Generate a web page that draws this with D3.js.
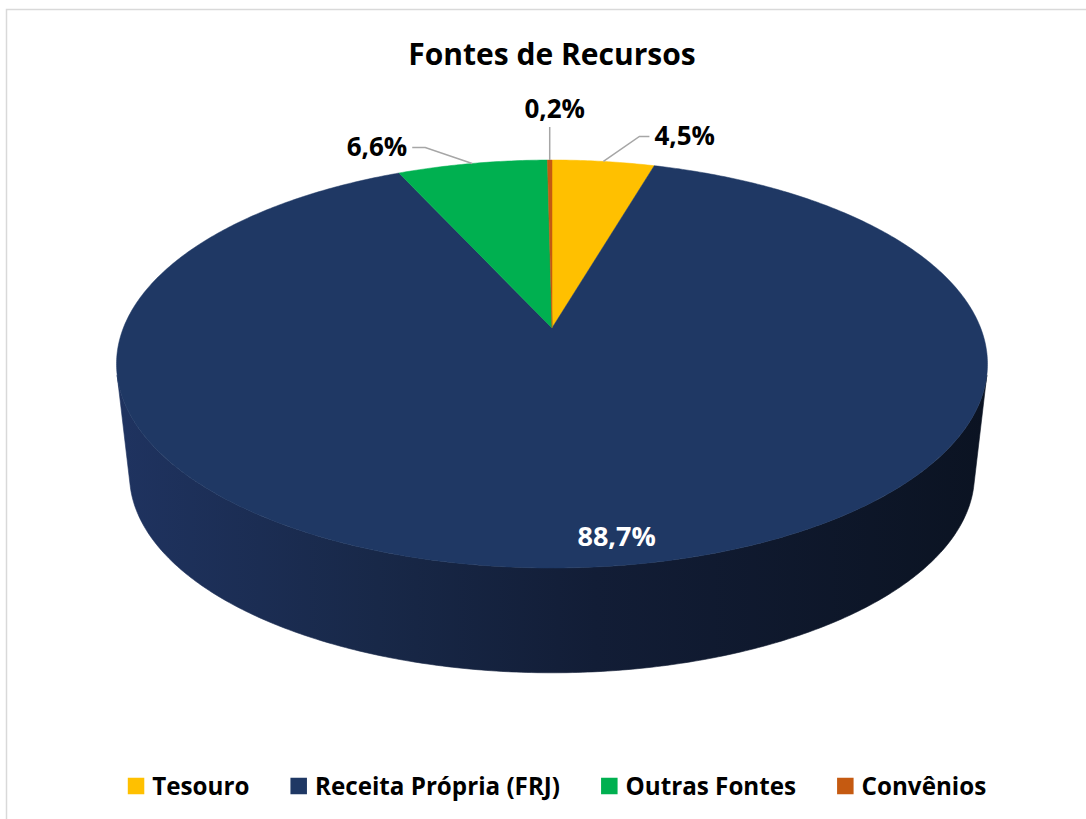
<!DOCTYPE html>
<html>
<head>
<meta charset="utf-8">
<script src="https://cdn.jsdelivr.net/npm/d3@7"></script>
<style>
  html, body { margin: 0; padding: 0; background: #ffffff; }
  svg { display: block; }
  text { font-family: "Open Sans", "DejaVu Sans", sans-serif; font-weight: 700; }
</style>
</head>
<body>
<svg id="chart" width="1086" height="819"></svg>
<script>
// ---- data ----
const title = "Fontes de Recursos";
const categories = ["Tesouro", "Receita Própria (FRJ)", "Outras Fontes", "Convênios"];
const values = [4.5, 88.7, 6.6, 0.2];
const valueLabels = ["4,5%", "88,7%", "6,6%", "0,2%"];
const colors = ["#FFC000", "#1F3864", "#00B050", "#C55A11"];

// ---- layout ----
const W = 1086, H = 819;
const svg = d3.select("#chart");

// perspective pie geometry (screen measurements of top face)
const cx = 552, cy0 = 328;
const backY = 160, frontY = 568, halfWidth = 435.5;
const back = cy0 - backY, front = frontY - cy0;
const k = (front - back) / (front + back);
const B = (front + back) / 2 * (1 - k * k);
const A = halfWidth * Math.sqrt(1 - k * k);
const sBottom = 0.97, dyBottom = 112;

function proj(a, r, bottom) {
  const u = r * Math.sin(a), v = r * Math.cos(a);
  const w = 1 + k * v;
  const s = bottom ? sBottom : 1;
  return [cx + s * A * u / w, cy0 + (bottom ? dyBottom : 0) - s * B * v / w];
}
function arcPts(a0, a1, r, bottom) {
  const n = Math.max(2, Math.ceil(Math.abs(a1 - a0) / 0.01));
  return d3.range(n + 1).map(i => proj(a0 + (a1 - a0) * i / n, r, bottom));
}

// silhouette angles: where the generator line (top->bottom) is tangent to the top rim
function silh(a) {
  const e = 1e-4;
  const p = proj(a, 1, false), q = proj(a + e, 1, false), b = proj(a, 1, true);
  const tx = q[0] - p[0], ty = q[1] - p[1], gx = b[0] - p[0], gy = b[1] - p[1];
  return tx * gy - ty * gx;
}
function findRoot(lo, hi) {
  let flo = silh(lo);
  for (let i = 0; i < 60; i++) {
    const m = (lo + hi) / 2, fm = silh(m);
    if ((fm > 0) === (flo > 0)) { lo = m; flo = fm; } else hi = m;
  }
  return (lo + hi) / 2;
}
const visLo = findRoot(Math.PI * 0.3, Math.PI * 0.9);
const visHi = findRoot(Math.PI * 1.1, Math.PI * 1.7);

// border
svg.append("rect").attr("x", 6.5).attr("y", 9.5).attr("width", W + 20).attr("height", H + 20)
  .attr("fill", "none").attr("stroke", "#d9d9d9").attr("stroke-width", 1.5);

// title
svg.append("text").attr("x", cx).attr("y", 64.5).attr("text-anchor", "middle")
  .attr("font-size", 30).attr("fill", "#000").text(title);

const pie = d3.pie().sort(null).value(d => d)(values);
const line = d3.line();

// gradients for side walls
const defs = svg.append("defs");
colors.forEach((c, i) => {
  const g = defs.append("linearGradient").attr("id", "wall" + i)
    .attr("gradientUnits", "userSpaceOnUse")
    .attr("x1", cx - halfWidth).attr("x2", cx + halfWidth).attr("y1", 0).attr("y2", 0);
  const base = d3.color(c);
  const stops = i === 1
    ? [[0, "#1f3360"], [0.3, "#182848"], [0.55, "#121d36"], [1, "#0b1322"]]
    : [[0, base.darker(0.4)], [0.5, base.darker(1.0)], [1, base.darker(1.8)]];
  stops.forEach(([o, col]) => g.append("stop").attr("offset", o).attr("stop-color", col));
});

// side walls (front-visible range only)
const walls = svg.append("g");
pie.forEach((p, i) => {
  const a0 = Math.max(p.startAngle, visLo), a1 = Math.min(p.endAngle, visHi);
  if (a1 <= a0) return;
  const pts = arcPts(a0, a1, 1, false).concat(arcPts(a1, a0, 1, true));
  walls.append("path").attr("d", line(pts) + "Z").attr("fill", `url(#wall${i})`)
    .attr("stroke", `url(#wall${i})`).attr("stroke-width", 0.6);
});

// top faces
const tops = svg.append("g");
pie.forEach((p, i) => {
  const pts = [proj(0, 0, false)].concat(arcPts(p.startAngle, p.endAngle, 1, false));
  tops.append("path").attr("d", line(pts) + "Z").attr("fill", colors[i])
    .attr("stroke", colors[i]).attr("stroke-width", 0.5);
});

// labels
const labelLayout = [
  { type: "out", elbow: [36, -25], tail: 10, anchor: "start" },
  { type: "in", r: 0.89, dx: 32 },
  { type: "out", elbow: [-47, -16], tail: -13, anchor: "end" },
  { type: "up", rise: 33 }
];
const lab = svg.append("g");
pie.forEach((p, i) => {
  const mid = (p.startAngle + p.endAngle) / 2;
  const L = labelLayout[i];
  if (L.type === "in") {
    const [x, y] = proj(mid, L.r, false);
    lab.append("text").attr("x", x + L.dx).attr("y", y).attr("dy", "0.36em")
      .attr("text-anchor", "middle").attr("font-size", 27).attr("fill", "#fff").text(valueLabels[i]);
    return;
  }
  const P = proj(mid, 1, false);
  if (L.type === "out") {
    const E = [P[0] + L.elbow[0], P[1] + L.elbow[1]];
    const T = [E[0] + L.tail, E[1]];
    lab.append("path").attr("d", line([P, E, T])).attr("fill", "none")
      .attr("stroke", "#a6a6a6").attr("stroke-width", 1.5);
    lab.append("text").attr("x", T[0] + (L.anchor === "start" ? 5 : -5)).attr("y", T[1])
      .attr("dy", "0.33em").attr("text-anchor", L.anchor).attr("font-size", 26)
      .attr("fill", "#000").text(valueLabels[i]);
  } else {
    const T = [P[0], P[1] - L.rise];
    lab.append("path").attr("d", line([P, T])).attr("fill", "none")
      .attr("stroke", "#a6a6a6").attr("stroke-width", 1.5);
    lab.append("text").attr("x", T[0] + 5).attr("y", T[1] - 9)
      .attr("text-anchor", "middle").attr("font-size", 26)
      .attr("fill", "#000").text(valueLabels[i]);
  }
});

// legend
const legend = svg.append("g");
const sw = 16.5, gapTxt = 8, gapItem = 41, legY = 786;
const items = categories.map((c, i) => {
  const g = legend.append("g");
  g.append("rect").attr("x", 0).attr("y", -sw / 2).attr("width", sw).attr("height", sw).attr("fill", colors[i]);
  const t = g.append("text").attr("x", sw + gapTxt).attr("y", 0).attr("dy", "0.36em")
    .attr("font-size", 24.2).attr("fill", "#000").text(c);
  const w = sw + gapTxt + t.node().getComputedTextLength();
  return { g, w };
});
const total = d3.sum(items, d => d.w) + gapItem * (items.length - 1);
let x0 = 557 - total / 2;
items.forEach(d => { d.g.attr("transform", `translate(${x0},${legY})`); x0 += d.w + gapItem; });
</script>
</body>
</html>
